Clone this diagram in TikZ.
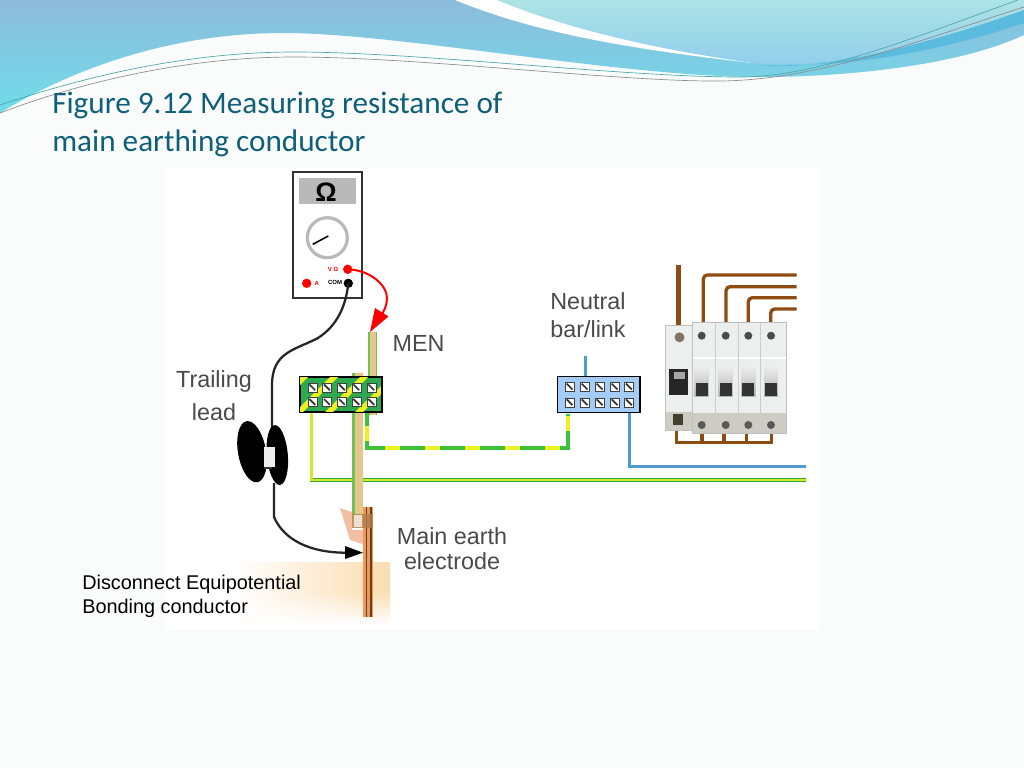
\documentclass[tikz,border=0pt]{standalone}
\usepackage{fontspec}
\setmainfont{Liberation Sans}
\newfontfamily\titlefont{Carlito}
\usetikzlibrary{calc,fadings}
\definecolor{pagebg}{HTML}{FAFCFC}
\definecolor{titleblue}{HTML}{0F5F78}
\definecolor{labelgray}{HTML}{4A4A4A}
\definecolor{wavetop}{HTML}{8DBBDC}
\definecolor{wavelow}{HTML}{6FDDEA}
\definecolor{pale}{HTML}{ACE3E5}
\definecolor{palelow}{HTML}{8FCBEE}
\definecolor{streak}{HTML}{5ABBDE}
\definecolor{earthgreen}{HTML}{3CC13C}
\definecolor{earthyellow}{HTML}{EEF020}
\definecolor{wireblue}{HTML}{4C9BD2}
\definecolor{barblue}{HTML}{A3CDF7}
\definecolor{barEarth}{HTML}{2BAA50}
\definecolor{brown}{HTML}{8E4C12}
\definecolor{rodtan}{HTML}{E3C78C}
\definecolor{soil}{HTML}{FBDDB0}
\definecolor{copper}{HTML}{E89A62}
\definecolor{breaker}{HTML}{EDEFEF}
\definecolor{breakerband}{HTML}{CCCCC2}
\tikzset{
  label/.style={font=\fontsize{17.5}{21}\selectfont, text=labelgray, align=center, inner sep=0pt},
  titleline/.style={anchor=base west, inner sep=0pt, text=titleblue, font=\titlefont\fontsize{23.4}{26}\selectfont},
  noteline/.style={anchor=base west, inner sep=0pt, font=\fontsize{14.9}{17}\selectfont, text=black},
  brownwire/.style={draw=brown, line width=2.5pt, rounded corners=3pt},
  bluewire/.style={draw=wireblue, line width=2.4pt},
  screw/.style={draw=black!75, fill=white, line width=0.6pt, minimum size=6.8pt, inner sep=0pt},
  jack/.style={circle, minimum size=7pt, inner sep=0pt},
  tinytext/.style={font=\bfseries\fontsize{4.5}{5}\selectfont, inner sep=0pt},
}
\def\termbar#1{%
  \foreach \sx/\sy in {#1} {
    \node[screw] at (\sx,\sy) {};
    \draw[line width=1.3pt, black!80] (\sx-3.3,\sy-3.3) -- (\sx+2.5,\sy+2.5);
  }
}
\begin{document}
\begin{tikzpicture}[x=0.75pt,y=-0.75pt]
  %%%%% START %%%%%
  \useasboundingbox (0,0) rectangle (1024,768);
  \fill[pagebg] (0,0) rectangle (1024,768);

  % header waves
  \shade[top color=wavetop, bottom color=wavelow] (0,0) -- (0,113)
    .. controls (60,76) and (160,33) .. (283,33)
    .. controls (400,33) and (620,77) .. (760,77)
    .. controls (850,77) and (960,65) .. (1024,35) -- (1024,0) -- cycle;
  \fill[white] (455,0) .. controls (540,35) and (640,50) .. (752,63) -- (800,40) -- (620,0) -- cycle;
  \shade[top color=pale, bottom color=palelow] (497,0)
    .. controls (570,30) and (660,50) .. (753,63)
    .. controls (830,72) and (940,40) .. (1024,10) -- (1024,0) -- cycle;
  \fill[streak] (760,65) .. controls (830,72) and (940,40) .. (1024,10) -- (1024,23)
    .. controls (950,48) and (860,68) .. (760,65) -- cycle;
  \draw[teal!70, line width=0.5pt] (0,105) .. controls (60,85) and (170,52) .. (294,52)
    .. controls (420,52) and (620,77) .. (740,77)
    .. controls (820,77) and (920,35) .. (1018,0);
  \draw[black!45, line width=0.5pt] (0,113) .. controls (60,90) and (170,57) .. (294,57)
    .. controls (420,57) and (620,82) .. (720,81)
    .. controls (820,80) and (920,40) .. (1024,7);

  % title
  \node[titleline] (title1) at (52,113) {Figure 9.12 Measuring resistance of};
  \node[titleline] (title2) at (52,151) {main earthing conductor};

  % picture area
  \fill[white] (165,168) rectangle (820,630);

  % soil
  \shade[left color=white, right color=soil] (235,562) rectangle (390,623);
  \fill[white, path fading=north] (235,592) rectangle (390,624);

  % earth wires
  \coordinate (bar1wire) at (311.5,412);
  \coordinate (corner1) at (311.5,480);
  \coordinate (endgreen) at (806,480);
  \draw[draw=earthgreen!85!black, line width=2.6pt] (bar1wire) -- (corner1) -- (endgreen);
  \draw[draw=earthyellow!85!earthgreen, line width=1.6pt] (bar1wire) -- (corner1) -- (endgreen);

  % rods
  \fill[earthgreen!70!rodtan] (352,373) rectangle (363,515);
  \fill[rodtan] (354.5,373) rectangle (363,515);
  \fill[earthgreen!70!rodtan] (367.5,332) rectangle (377,415);
  \fill[rodtan] (369.5,332) rectangle (375.5,415);

  % earth bar
  \node[draw=black, line width=1pt, fill=barEarth, minimum width=61pt, minimum height=26pt, inner sep=0pt] (menbar) at (340.5,394.5) {};
  \begin{scope}
    \clip (299.5,377) rectangle (381.5,412);
    \foreach \k in {265,295,325,355,385} {
      \fill[earthyellow] (\k,412) -- (\k+8,412) -- (\k+43,377) -- (\k+35,377) -- cycle;
    }
  \end{scope}
  \draw[line width=1pt] (menbar.north west) rectangle (menbar.south east);
  \termbar{312.7/387.7,327.3/387.7,342.3/387.7,356.7/387.7,371.7/387.7,312.7/402.3,327.3/402.3,342.3/402.3,356.7/402.3,371.7/402.3}

  % neutral bar
  \coordinate (neutralup) at (585.5,356);
  \draw[bluewire] (neutralup) -- (585.5,377);
  \coordinate (neutralend) at (806,466.5);
  \draw[bluewire] (629.3,376) -- (629.3,466.5) -- (neutralend);
  \node[draw=black, line width=1pt, fill=barblue, minimum width=62pt, minimum height=27pt, inner sep=0pt] (neutralbar) at (598.5,394.5) {};
  \termbar{570/387,585/387,600/387,615/387,629.3/387,570/402.7,585/402.7,600/402.7,615/402.7,629.3/402.7}

  % bonding conductor
  \coordinate (bondA) at (367,413);
  \coordinate (bondB) at (367,448);
  \coordinate (bondC) at (568,448);
  \coordinate (bondD) at (568,413.5);
  \draw[earthgreen, line width=3pt] (bondA) -- (bondB) -- (bondC) -- (bondD);
  \draw[earthyellow, line width=3pt, dash pattern=on 11pt off 19pt, dash phase=-10pt] (bondA) -- (bondB) -- (bondC) -- (bondD);

  % breakers
  \draw[brownwire, line width=3.6pt] (678.3,265) -- (678.3,326);
  \draw[brownwire] (703.3,323) -- (703.3,275) -- (796.7,275);
  \draw[brownwire] (726,323) -- (726,286.7) -- (796.7,286.7);
  \draw[brownwire] (748.3,323) -- (748.3,297.7) -- (796.7,297.7);
  \draw[brownwire] (770.7,323) -- (770.7,309) -- (796.7,309);
  \draw[brown, line width=2.5pt] (676.7,428) -- (676.7,442.3) -- (771.7,442.3) -- (771.7,428);
  \foreach \xa in {702,724,746.7} {
    \draw[brown, line width=2.5pt] (\xa,430) -- (\xa,442.3);
  }
  \fill[breaker] (665,325.7) rectangle (692,430);
  \fill[breakerband] (665,412) rectangle (692,430);
  \fill[black!85] (668.5,369) rectangle (688.3,395);
  \fill[gray!70] (674,372) rectangle (685,379);
  \fill[gray!75!brown] (679.5,337.3) circle (5);
  \fill[black!70!olive] (673,414) rectangle (683,425);
  \fill[breaker] (692,322.3) rectangle (786,433.3);
  \fill[breakerband] (692,413) rectangle (786,433.3);
  \draw[white, line width=0.8pt] (692,358) -- (786,358);
  \foreach \xa in {715,738,760.5} {
    \draw[gray!40, line width=0.4pt] (\xa,322.3) -- (\xa,433.3);
  }
  \foreach \xa in {701.7,725.7,748.3,771} {
    \shade[top color=gray!15, bottom color=gray!60] (\xa-7,366.7) rectangle (\xa+7,396.7);
    \fill[black!80] (\xa-6,382.5) rectangle (\xa+6,396);
    \fill[black!70] (\xa,335.7) circle (4);
    \fill[black!65] (\xa,425) circle (4);
  }
  \draw[gray!50, line width=0.4pt] (692,322.3) rectangle (786,433.3);
  \draw[gray!50, line width=0.4pt] (665,325.7) rectangle (692,430);

  % meter
  \node[draw=black!80, line width=1.3pt, fill=white, minimum width=52pt, minimum height=94pt, inner sep=0pt] (meter) at (327.5,235) {};
  \fill[gray!55] (299,178) rectangle (356,204.3);
  \node[font=\bfseries\fontsize{20}{20}\selectfont, text=black, inner sep=0pt] (ohm) at (326,192) {Ω};
  \node[circle, draw=gray!55, line width=2.4pt, fill=white, minimum size=30pt, inner sep=0pt] (dial) at (327.3,237.7) {};
  \draw[line width=1.2pt] (312.7,244.3) -- (328.3,236);
  \node[jack, fill=red] (vjack) at (347.7,269.3) {};
  \node[jack, fill=black] (comjack) at (348.3,283.3) {};
  \node[jack, fill=red] (ajack) at (306.7,283.3) {};
  \node[tinytext, text=red] (vtext) at (333,269.3) {V Ω};
  \node[tinytext, text=red] (atext) at (316.7,283) {A};
  \node[tinytext] (comtext) at (335,282.5) {COM};

  % red lead
  \coordinate (redend) at (381.5,315);
  \draw[red, line width=1.5pt] (vjack.center) .. controls (370,270) and (387,285) .. (387,298) .. controls (387,305) and (384,311) .. (redend);
  \fill[red] (375,308) -- (388.5,316.5) -- (370,332) -- cycle;

  % black lead
  \coordinate (spooltop) at (272,430);
  \draw[black!85, line width=1.7pt] (comjack.center) .. controls (346,305) and (338,325) .. (318,338) .. controls (295,350) and (272,352) .. (272,385) -- (spooltop);

  % spool
  \fill[black, rotate around={10:(252,451.7)}] (252,451.7) ellipse (14 and 31);
  \fill[black, rotate around={5:(277.3,455)}] (277.3,455) ellipse (10.5 and 30);
  \fill[gray!15] (264,447) rectangle (275,467);
  \draw[black!80, line width=1pt] (264,468) -- (272,468);

  \coordinate (spoolbottom) at (274,483);
  \coordinate (leadtip) at (346,552.7);
  \draw[black!85, line width=1.7pt] (spoolbottom) -- (274,517) .. controls (284,540) and (310,552.7) .. (leadtip);

  % clamp and electrode
  \fill[red!25!rodtan, opacity=0.6] (340,508) -- (352,512) -- (352,530) -- (372,530) -- (366,545) -- (350,540) -- cycle;
  \fill[copper] (362.5,506.7) rectangle (373.3,616.7);
  \fill[brown!80!black] (365.5,506.7) rectangle (367,616.7);
  \fill[brown!80!black] (370,506.7) rectangle (371.5,616.7);
  \fill[brown!60!rodtan, opacity=0.8] (352,514) rectangle (373,528);
  \fill[white, opacity=0.7] (354,515) rectangle (362,527);
  \fill[black] (345,546) -- (363,552.7) -- (345,559) -- cycle;

  % labels
  \node[label] (menlabel) at (418.5,343) {MEN};
  \node[label] (neutrallabel) at (588,315) {Neutral\\[-0.5pt]bar/link};
  \node[label] (traillabel) at (214,395.5) {Trailing\\[3.5pt]lead};
  \node[label] (mainlabel) at (452,548.5) {Main earth\\[-2.5pt]electrode};
  \node[noteline] (disc1) at (82,589) {Disconnect Equipotential};
  \node[noteline] (disc2) at (82,613) {Bonding conductor};
  %%%%% END %%%%%
\end{tikzpicture}
\end{document}
